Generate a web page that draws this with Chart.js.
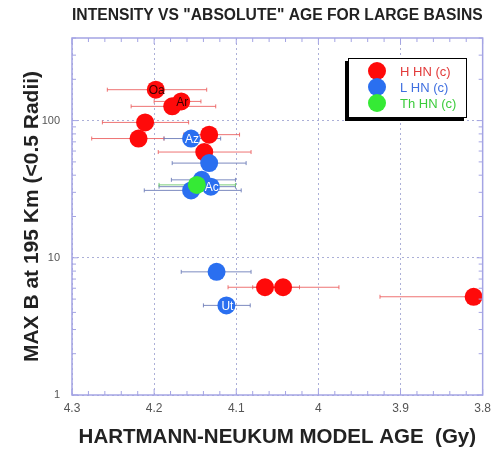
<!DOCTYPE html>
<html>
<head>
<meta charset="utf-8">
<script src="https://cdn.jsdelivr.net/npm/chart.js@4.4.1/dist/chart.umd.min.js"></script>
<style>
  body { margin: 0; background: #fff; }
  canvas { display: block; }
</style>
</head>
<body>
<canvas id="chart" width="497" height="451"></canvas>
<script>
// H HN (c) basins - model age (Gy), MAX B, and age error range
const redAge = [4.198, 4.167, 4.178, 4.211, 4.219, 4.133, 4.139, 4.065, 4.043, 3.811];
const redB   = [168, 138, 127, 97, 74, 79, 59, 6.1, 6.1, 5.2];
const redLo  = [4.257, 4.200, 4.228, 4.263, 4.276, 4.164, 4.195, 4.110, 4.080, 3.925];
const redHi  = [4.136, 4.143, 4.125, 4.158, 4.188, 4.096, 4.082, 4.023, 3.975, 3.800];
const redTags = ['Oa', 'Ar', '', '', '', '', '', '', '', ''];

// L HN (c)
const blueAge = [4.155, 4.133, 4.142, 4.131, 4.155, 4.124, 4.112];
const blueB   = [74, 49, 37, 33, 31, 7.9, 4.5];
const blueLo  = [4.188, 4.178, 4.179, 4.194, 4.212, 4.167, 4.140];
const blueHi  = [4.119, 4.088, 4.101, 4.101, 4.094, 4.082, 4.083];
const blueTags = ['Az', '', '', 'Ac', '', '', 'Ut'];

// Th HN (c)
const greenAge = [4.148];
const greenB   = [34];
const greenLo  = [4.194];
const greenHi  = [4.101];
const greenTags = [''];

const xTicks = [4.3, 4.2, 4.1, 4, 3.9, 3.8];
const yTicks = [1, 10, 100];

const frameColor = '#a4a4e4';

const toPts = (xs, ys) => xs.map((x, i) => ({ x: x, y: ys[i] }));

// error bars under the points
const errorBars = {
  id: 'errorBars',
  beforeDatasetsDraw(chart) {
    const ctx = chart.ctx;
    const xs = chart.scales.x, ys = chart.scales.y;
    const a = chart.chartArea;
    ctx.save();
    ctx.beginPath();
    ctx.rect(a.left, a.top, a.right - a.left, a.bottom - a.top);
    ctx.clip();
    chart.data.datasets.forEach(ds => {
      ctx.strokeStyle = ds.barColor;
      ctx.lineWidth = 1;
      ds.data.forEach((p, i) => {
        const x1 = xs.getPixelForValue(ds.lo[i]);
        const x2 = xs.getPixelForValue(ds.hi[i]);
        const y = ys.getPixelForValue(p.y);
        ctx.beginPath();
        ctx.moveTo(x1, y); ctx.lineTo(x2, y);
        ctx.moveTo(x1, y - 2); ctx.lineTo(x1, y + 2);
        ctx.moveTo(x2, y - 2); ctx.lineTo(x2, y + 2);
        ctx.stroke();
      });
    });
    ctx.restore();
  }
};

// basin names written inside the circles
const pointTags = {
  id: 'pointTags',
  afterDatasetsDraw(chart) {
    const ctx = chart.ctx;
    ctx.save();
    ctx.font = '12px "Liberation Sans", Arial, sans-serif';
    ctx.textAlign = 'center';
    ctx.textBaseline = 'middle';
    chart.data.datasets.forEach((ds, di) => {
      const meta = chart.getDatasetMeta(di);
      ds.tags.forEach((t, i) => {
        if (!t) return;
        const el = meta.data[i];
        ctx.fillStyle = ds.tagColor;
        ctx.fillText(t, el.x + 1, el.y + 1);
      });
    });
    ctx.restore();
  }
};

// frame, minor ticks and boxed legend
const frame = {
  id: 'frame',
  afterDraw(chart) {
    const ctx = chart.ctx;
    const a = chart.chartArea;
    const xs = chart.scales.x, ys = chart.scales.y;
    ctx.save();
    ctx.strokeStyle = frameColor;
    ctx.lineWidth = 1.5;
    ctx.strokeRect(a.left, a.top, a.right - a.left, a.bottom - a.top);

    ctx.lineWidth = 1;
    ctx.beginPath();
    for (let v = 3.8; v <= 4.3001; v += 0.02) {
      const px = xs.getPixelForValue(v);
      const major = Math.abs(v * 10 - Math.round(v * 10)) < 0.01;
      const len = major ? 6 : 4;
      ctx.moveTo(px, a.bottom); ctx.lineTo(px, a.bottom - len);
      ctx.moveTo(px, a.top); ctx.lineTo(px, a.top + len);
    }
    [1, 10, 100].forEach(d => {
      for (let k = 1; k <= 9; k++) {
        const v = k * d;
        if (v > 400) break;
        const py = ys.getPixelForValue(v);
        const len = k === 1 ? 6 : 4;
        ctx.moveTo(a.left, py); ctx.lineTo(a.left + len, py);
        ctx.moveTo(a.right, py); ctx.lineTo(a.right - len, py);
      }
    });
    ctx.stroke();

    // legend box
    const bx = 348, by = 58, bw = 119, bh = 60;
    ctx.fillStyle = '#000';
    ctx.fillRect(bx - 3, by + 3, bw, bh);
    ctx.fillStyle = '#fff';
    ctx.fillRect(bx, by, bw, bh);
    ctx.strokeStyle = '#000';
    ctx.lineWidth = 1;
    ctx.strokeRect(bx + 0.5, by + 0.5, bw - 1, bh - 1);
    ctx.font = '13px "Liberation Sans", Arial, sans-serif';
    ctx.textBaseline = 'middle';
    chart.data.datasets.forEach((ds, i) => {
      const cy = by + 13 + i * 16;
      ctx.beginPath();
      ctx.arc(bx + 29, cy, 9, 0, Math.PI * 2);
      ctx.fillStyle = ds.backgroundColor;
      ctx.fill();
      ctx.fillStyle = ds.textColor;
      ctx.fillText(ds.label, bx + 52, cy + 1);
    });
    ctx.restore();
  }
};

const font = '"Liberation Sans", Arial, sans-serif';

new Chart(document.getElementById('chart'), {
  type: 'scatter',
  data: {
    datasets: [
      { label: 'H HN (c)', data: toPts(redAge, redB), lo: redLo, hi: redHi, tags: redTags,
        backgroundColor: '#ff0a0a', barColor: 'rgba(235,90,90,0.85)', tagColor: '#3a0000', textColor: '#e23a3a',
        pointRadius: 9, pointBorderWidth: 0, order: 3 },
      { label: 'L HN (c)', data: toPts(blueAge, blueB), lo: blueLo, hi: blueHi, tags: blueTags,
        backgroundColor: '#2a6ff0', barColor: 'rgba(110,125,185,0.9)', tagColor: '#ffffff', textColor: '#3f6fe0',
        pointRadius: 9, pointBorderWidth: 0, order: 2 },
      { label: 'Th HN (c)', data: toPts(greenAge, greenB), lo: greenLo, hi: greenHi, tags: greenTags,
        backgroundColor: '#35ea35', barColor: 'rgba(110,200,110,0.9)', tagColor: '#000', textColor: '#3ccc3c',
        pointRadius: 9, pointBorderWidth: 0, order: 1 }
    ]
  },
  options: {
    responsive: false,
    animation: false,
    layout: { padding: { left: 0, right: 10, top: 0, bottom: 0 } },
    plugins: {
      legend: { display: false },
      tooltip: { enabled: false },
      title: {
        display: true,
        fullSize: false,
        text: 'INTENSITY VS "ABSOLUTE" AGE FOR LARGE BASINS',
        color: '#222',
        font: { family: font, size: 16, weight: 'bold', lineHeight: 1.2 },
        padding: { top: 6.4, bottom: 12.4 }
      }
    },
    scales: {
      x: {
        type: 'linear',
        reverse: true,
        min: 3.8,
        max: 4.3,
        afterBuildTicks: s => { s.ticks = xTicks.map(v => ({ value: v })); },
        afterFit: s => { s.height = 56; },
        ticks: {
          color: '#555',
          font: { family: font, size: 12 },
          padding: 6,
          maxRotation: 0,
          callback: v => String(parseFloat(v.toFixed(1)))
        },
        grid: { color: 'rgba(150,155,205,0.8)', drawTicks: false },
        border: { display: false, dash: [2, 3] },
        title: {
          display: true,
          text: 'HARTMANN-NEUKUM MODEL AGE  (Gy)',
          color: '#222',
          font: { family: font, size: 20.5, weight: 'bold', lineHeight: 1.2 },
          padding: { top: 0, bottom: 1.7 }
        }
      },
      y: {
        type: 'logarithmic',
        min: 1,
        max: 400,
        afterBuildTicks: s => { s.ticks = yTicks.map(v => ({ value: v })); },
        afterFit: s => { s.width = 72; },
        ticks: {
          color: '#555',
          font: { family: font, size: 11 },
          padding: 12,
          callback: v => String(v)
        },
        grid: { color: 'rgba(150,155,205,0.8)', drawTicks: false },
        border: { display: false, dash: [2, 3] },
        title: {
          display: true,
          text: 'MAX B at 195 Km (<0.5 Radii)',
          color: '#222',
          font: { family: font, size: 21, weight: 'bold', lineHeight: 1.2 },
          padding: { top: 19.4, bottom: 0 }
        }
      }
    }
  },
  plugins: [errorBars, pointTags, frame]
});
</script>
</body>
</html>
